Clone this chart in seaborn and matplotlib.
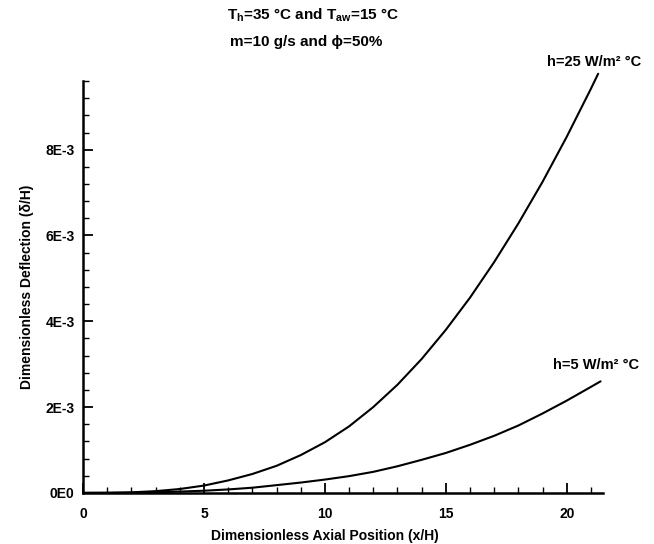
import matplotlib
matplotlib.use("Agg")
import matplotlib.pyplot as plt
import seaborn as sns
import numpy as np
import pandas as pd
from matplotlib.ticker import MultipleLocator, FixedLocator, FixedFormatter

# Data
x_h25 = [0, 1, 2, 3, 4, 5, 6, 7, 8, 9, 10, 11, 12, 13, 14, 15, 16, 17, 18, 19, 20, 21, 21.3]
y_h25 = [0, 0.002e-3, 0.012e-3, 0.04e-3, 0.09e-3, 0.17e-3, 0.29e-3, 0.44e-3, 0.63e-3, 0.88e-3,
         1.18e-3, 1.55e-3, 2.00e-3, 2.52e-3, 3.12e-3, 3.80e-3, 4.55e-3, 5.38e-3, 6.28e-3,
         7.25e-3, 8.30e-3, 9.42e-3, 9.77e-3]
x_h5 = [0, 1, 2, 3, 4, 5, 6, 7, 8, 9, 10, 11, 12, 13, 14, 15, 16, 17, 18, 19, 20, 21, 21.4]
y_h5 = [0, 0.001e-3, 0.005e-3, 0.015e-3, 0.03e-3, 0.05e-3, 0.08e-3, 0.12e-3, 0.18e-3, 0.24e-3,
        0.31e-3, 0.39e-3, 0.49e-3, 0.62e-3, 0.77e-3, 0.93e-3, 1.12e-3, 1.33e-3, 1.57e-3,
        1.85e-3, 2.15e-3, 2.47e-3, 2.60e-3]

xticks = [0, 5, 10, 15, 20]
xticklabels = ["0", "5", "10", "15", "20"]
yticks = [0, 2e-3, 4e-3, 6e-3, 8e-3]
yticklabels = ["0E0", "2E-3", "4E-3", "6E-3", "8E-3"]

sns.set_style("ticks")
plt.rcParams['font.family'] = ['Liberation Sans', 'DejaVu Sans']
plt.rcParams.update({"text.color": "black", "axes.labelcolor": "black",
                     "xtick.color": "black", "ytick.color": "black",
                     "axes.edgecolor": "black"})

fig = plt.figure(figsize=(6.54, 5.44), dpi=100)
ax = fig.add_axes([0.127, 0.094, 0.795, 0.757])

df25 = pd.DataFrame({"x": x_h25, "y": y_h25})
df5 = pd.DataFrame({"x": x_h5, "y": y_h5})
for d in (df25, df5):
    sns.lineplot(data=d, x="x", y="y", ax=ax, color="black", linewidth=1.5)
for ln in ax.lines:
    ln.set_clip_on(False)

ax.set_xlim(0, 21.5)
ax.set_ylim(0, 9.6e-3)
ax.xaxis.set_major_locator(FixedLocator(xticks))
ax.xaxis.set_major_formatter(FixedFormatter(xticklabels))
ax.yaxis.set_major_locator(FixedLocator(yticks))
ax.yaxis.set_major_formatter(FixedFormatter(yticklabels))
ax.xaxis.set_minor_locator(MultipleLocator(1))
ax.yaxis.set_minor_locator(MultipleLocator(0.4e-3))
ax.tick_params(which="major", direction="in", length=7, width=1.3, labelsize=10,
               colors="black")
ax.tick_params(which="minor", direction="in", length=4, width=1.0, colors="black")
for lab in ax.get_xticklabels() + ax.get_yticklabels():
    lab.set_fontweight("bold")
ax.tick_params(axis="x", pad=10)
ax.tick_params(axis="y", pad=6)

for s in ["top", "right"]:
    ax.spines[s].set_visible(False)
for s in ["left", "bottom"]:
    ax.spines[s].set_linewidth(1.8)
    ax.spines[s].set_color("black")

ax.set_xlabel("Dimensionless Axial Position (x/H)", fontsize=10, fontweight="bold",
              color="black")
ax.set_ylabel("Dimensionless Deflection (δ/H)", fontsize=10, fontweight="bold",
              labelpad=8, color="black")
ax.xaxis.set_label_coords(0.465, -0.088)

fig.text(0.479, 0.972, r"T$_\mathregular{h}$=35 °C and T$_\mathregular{aw}$=15 °C",
         ha="center", va="center", fontsize=11, fontweight="bold", color="black")
fig.text(0.468, 0.922, "m=10 g/s and ϕ=50%", ha="center", va="center",
         fontsize=11, fontweight="bold", color="black")

ax.text(0.892, 1.046, "h=25 W/m² °C", transform=ax.transAxes, ha="left", va="center",
        fontsize=10.5, fontweight="bold", clip_on=False, color="black")
ax.text(0.904, 0.31, "h=5 W/m² °C", transform=ax.transAxes, ha="left", va="center",
        fontsize=10.5, fontweight="bold", clip_on=False, color="black")

fig.savefig("out.png", dpi=100)
